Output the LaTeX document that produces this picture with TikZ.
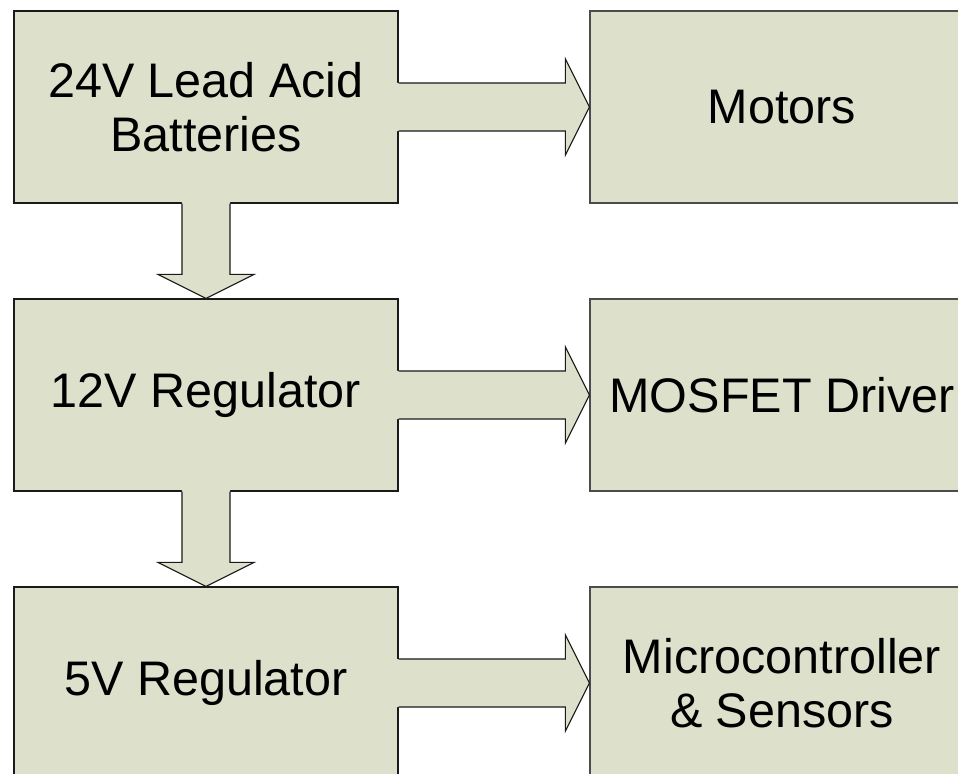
\documentclass[tikz,border=0pt]{standalone}
\usepackage{xcolor}
\usepackage{tikz}
\usepackage{fontspec}
\setmainfont{Liberation Sans}
\usetikzlibrary{positioning, calc}
\definecolor{boxfill}{HTML}{DDE0CB}
\definecolor{boxline}{HTML}{1A1A1A}

\tikzset{
  block/.style={draw=boxline, fill=boxfill, line width=0.8pt, minimum width=9.6cm,
    minimum height=4.8cm, align=center, inner sep=0pt,
    font=\fontsize{34.5}{38.5}\selectfont},
  rblock/.style={block, draw=black!70},
  edge/.style={draw=boxline, line width=0.8pt, line join=miter}
}

\begin{document}
\begin{tikzpicture}[x=0.025cm, y=-0.025cm]
  \clip (0,0) rectangle (958,774);
  \fill[white] (0,0) rectangle (958,774);

  % Levy sloupec
  \node[block] (bat)   at (206,107) {24V Lead Acid\\Batteries};
  \node[block] (reg12) at (206,395) {12V Regulator};
  \node[block] (reg5)  at (206,683) {5V Regulator};

  % Pravy sloupec
  \node[rblock] (mot) at (782,107) {Motors};
  \node[rblock] (drv) at (782,395) {MOSFET Driver};
  \node[rblock] (mcu) at (782,683) {Microcontroller\\\& Sensors};

  % Sipky doprava
  \foreach \a/\b in {bat/mot, reg12/drv, reg5/mcu} {
    \fill[boxfill] ($(\a.east)+(-1.5pt,0.6cm)$) -- ($(\b.west)+(-0.6cm,0.6cm)$)
      -- ($(\b.west)+(-0.6cm,1.2cm)$) -- (\b.west) -- ($(\b.west)+(-0.6cm,-1.2cm)$)
      -- ($(\b.west)+(-0.6cm,-0.6cm)$) -- ($(\a.east)+(-1.5pt,-0.6cm)$) -- cycle;
    \draw[edge] ($(\a.east)+(0,0.6cm)$) -- ($(\b.west)+(-0.6cm,0.6cm)$)
      -- ($(\b.west)+(-0.6cm,1.2cm)$) -- (\b.west) -- ($(\b.west)+(-0.6cm,-1.2cm)$)
      -- ($(\b.west)+(-0.6cm,-0.6cm)$) -- ($(\a.east)+(0,-0.6cm)$);
  }

  % Sipky dolu
  \foreach \a/\b in {bat/reg12, reg12/reg5} {
    \fill[boxfill] ($(\a.south)+(-0.6cm,1.5pt)$) -- ($(\b.north)+(-0.6cm,0.6cm)$)
      -- ($(\b.north)+(-1.2cm,0.6cm)$) -- (\b.north) -- ($(\b.north)+(1.2cm,0.6cm)$)
      -- ($(\b.north)+(0.6cm,0.6cm)$) -- ($(\a.south)+(0.6cm,1.5pt)$) -- cycle;
    \draw[edge] ($(\a.south)+(-0.6cm,0)$) -- ($(\b.north)+(-0.6cm,0.6cm)$)
      -- ($(\b.north)+(-1.2cm,0.6cm)$) -- (\b.north) -- ($(\b.north)+(1.2cm,0.6cm)$)
      -- ($(\b.north)+(0.6cm,0.6cm)$) -- ($(\a.south)+(0.6cm,0)$);
  }
\end{tikzpicture}
\end{document}
